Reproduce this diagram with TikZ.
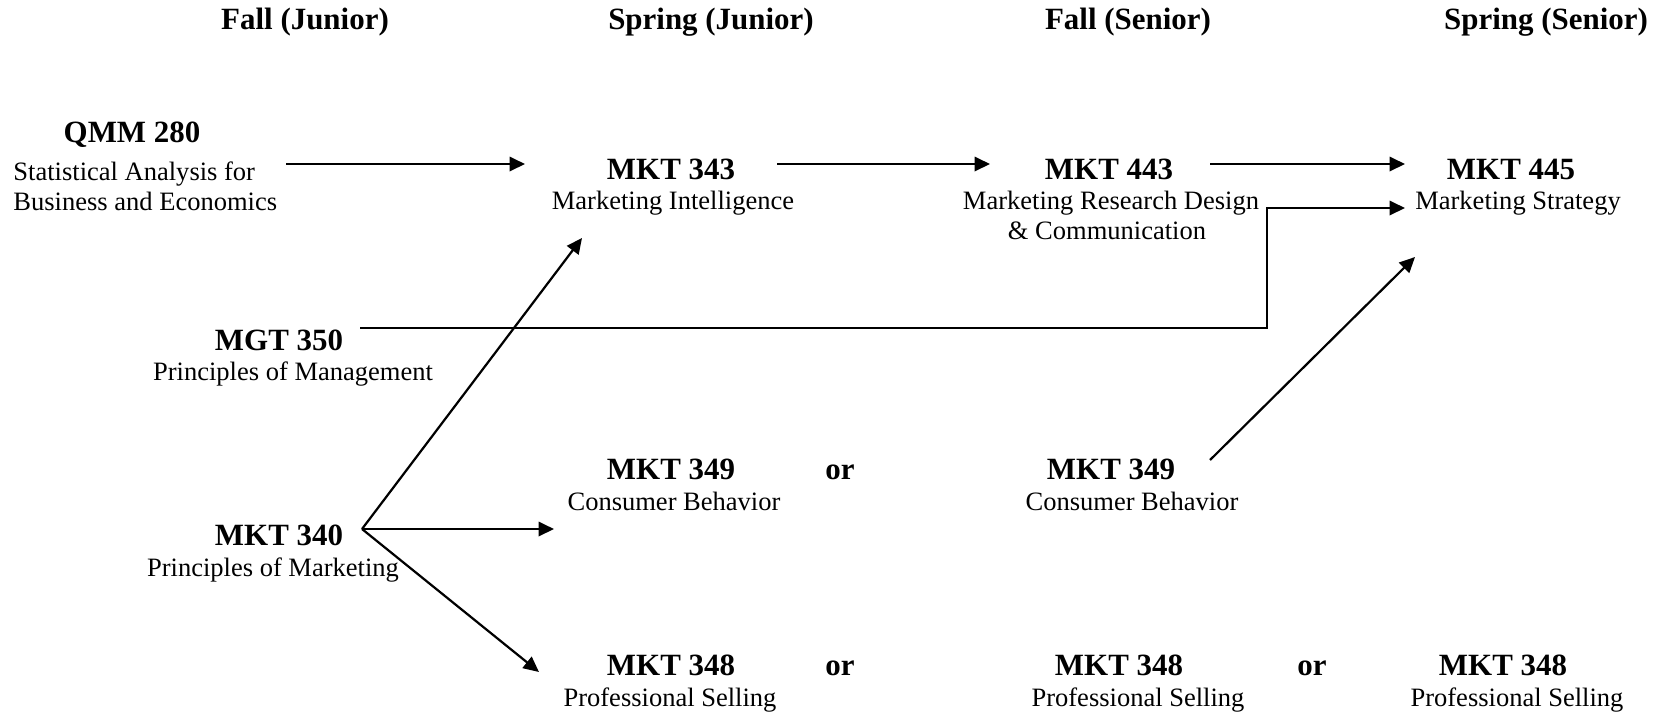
\documentclass[tikz,border=0pt]{standalone}
\usepackage{fontspec}
\setmainfont{Liberation Serif}
\usetikzlibrary{arrows.meta}
\tikzset{
  hd/.style={inner sep=0pt, anchor=base, font=\fontsize{14}{16}\selectfont\bfseries},
  code/.style={inner sep=0pt, anchor=base, font=\fontsize{14}{16}\selectfont\bfseries},
  title/.style={inner sep=0pt, anchor=base, font=\fontsize{12}{14}\selectfont},
  link/.style={line width=1pt, -{Triangle[length=7pt,width=6.5pt]}},
  plain/.style={line width=1pt}
}
\begin{document}
\begin{tikzpicture}[x=0.4525pt, y=-0.4525pt]
\useasboundingbox (0,0) rectangle (1659,713);
% headers
\node[hd] (h1) at (305,29) {Fall (Junior)};
\node[hd] (h2) at (711,29) {Spring (Junior)};
\node[hd] (h3) at (1128,29) {Fall (Senior)};
\node[hd] (h4) at (1546,29) {Spring (Senior)};
% QMM 280
\node[code] (qmm) at (132,142) {QMM 280};
\node[title, anchor=base west] (qmmt1) at (13,180) {Statistical Analysis for};
\node[title, anchor=base west] (qmmt2) at (13,210) {Business and Economics};
% MKT 343
\node[code] (m343) at (671,179) {MKT 343};
\node[title] (m343t) at (673,209) {Marketing Intelligence};
% MKT 443
\node[code] (m443) at (1109,179) {MKT 443};
\node[title] (m443t1) at (1111,209) {Marketing Research Design};
\node[title] (m443t2) at (1107,239) {\& Communication};
% MKT 445
\node[code] (m445) at (1511,179) {MKT 445};
\node[title] (m445t) at (1518,209) {Marketing Strategy};
% MGT 350
\node[code] (mgt) at (279,350) {MGT 350};
\node[title] (mgtt) at (293,380) {Principles of Management};
% MKT 340
\node[code] (m340) at (279,545) {MKT 340};
\node[title] (m340t) at (273,576) {Principles of Marketing};
% MKT 349 junior
\node[code] (m349a) at (671,479) {MKT 349};
\node[title] (m349at) at (674,510) {Consumer Behavior};
\node[code] (or1) at (840,479) {or};
% MKT 349 senior
\node[code] (m349b) at (1111,479) {MKT 349};
\node[title] (m349bt) at (1132,510) {Consumer Behavior};
% MKT 348 row
\node[code] (m348a) at (671,675) {MKT 348};
\node[title] (m348at) at (670,706) {Professional Selling};
\node[code] (or2) at (840,675) {or};
\node[code] (m348b) at (1119,675) {MKT 348};
\node[title] (m348bt) at (1138,706) {Professional Selling};
\node[code] (or3) at (1312,675) {or};
\node[code] (m348c) at (1503,675) {MKT 348};
\node[title] (m348ct) at (1517,706) {Professional Selling};
% connector ends
\coordinate (qmmOut) at (286,164);
\coordinate (m343In) at (525,164);
\coordinate (m343Out) at (777,164);
\coordinate (m443In) at (990,164);
\coordinate (m443Out) at (1210,164);
\coordinate (m445In) at (1405,164);
\coordinate (mgtOut) at (360,328);
\coordinate (bendA) at (1267,328);
\coordinate (bendB) at (1267,208);
\coordinate (m445In2) at (1405,208);
\coordinate (m340Out) at (362,529);
\coordinate (m343In2) at (582,238);
\coordinate (m349aIn) at (554,529);
\coordinate (m348aIn) at (539,672);
\coordinate (m349bOut) at (1210,460);
\coordinate (m445In3) at (1415,257);
% connectors
\draw[link] (qmmOut) -- (m343In);
\draw[link] (m343Out) -- (m443In);
\draw[link] (m443Out) -- (m445In);
\draw[link] (mgtOut) -- (bendA) -- (bendB) -- (m445In2);
\draw[link] (m340Out) -- (m343In2);
\draw[link] (m340Out) -- (m349aIn);
\draw[link] (m340Out) -- (m348aIn);
\draw[link] (m349bOut) -- (m445In3);
\end{tikzpicture}
\end{document}
